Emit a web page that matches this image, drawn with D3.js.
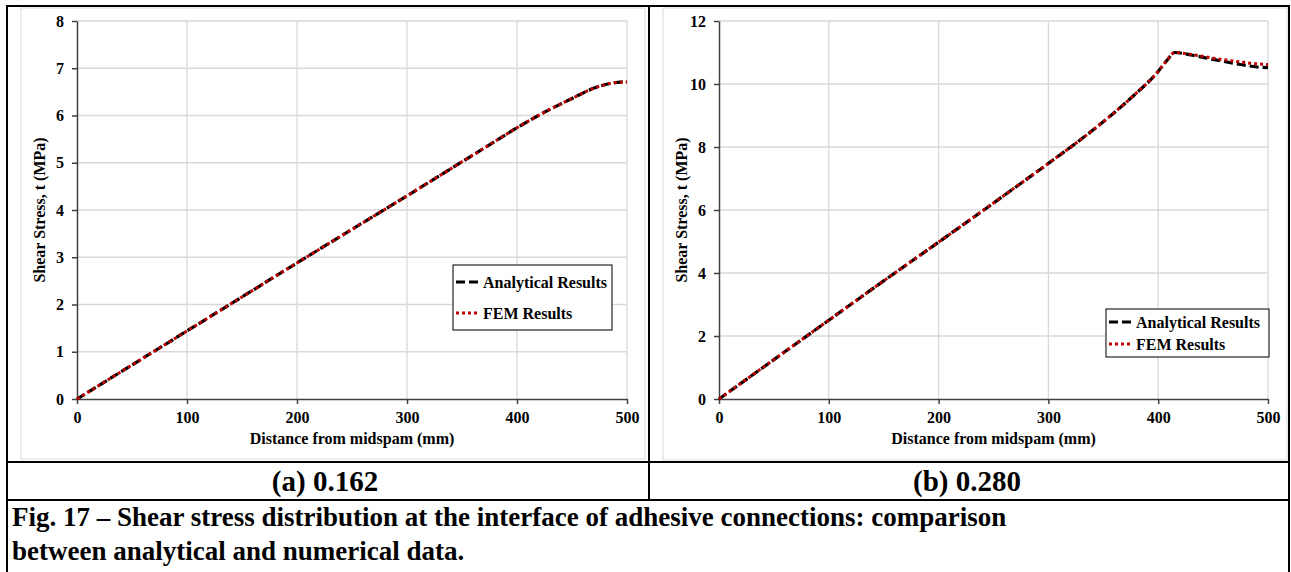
<!DOCTYPE html>
<html>
<head>
<meta charset="utf-8">
<script src="https://cdn.jsdelivr.net/npm/d3@7"></script>
<style>
  body { margin: 0; background: #fff; }
  svg { display: block; font-family: "Liberation Serif", "Times New Roman", serif; font-weight: bold; }
</style>
</head>
<body>
<svg id="fig"></svg>
<script>
const width = 1291, height = 572;

// Data
const xTicks = [0, 100, 200, 300, 400, 500];

// panel (a) 0.162
const aDist = [0, 50, 100, 150, 200, 250, 300, 350, 375, 400, 425, 450, 470, 485, 500];
const aAnalytical = [0, 0.72, 1.44, 2.16, 2.88, 3.59, 4.30, 5.02, 5.38, 5.74, 6.07, 6.36, 6.58, 6.68, 6.72];
const aFEM = [0, 0.72, 1.44, 2.16, 2.88, 3.59, 4.30, 5.02, 5.38, 5.74, 6.07, 6.36, 6.58, 6.68, 6.71];
const aYTicks = [0, 1, 2, 3, 4, 5, 6, 7, 8];

// panel (b) 0.280
const bDist = [0, 50, 100, 150, 200, 250, 300, 325, 350, 375, 400, 408, 415, 430, 450, 475, 490, 500];
const bAnalytical = [0, 1.25, 2.5, 3.75, 4.98, 6.22, 7.48, 8.12, 8.8, 9.55, 10.4, 10.75, 11.0, 10.92, 10.78, 10.62, 10.54, 10.52];
const bFEM = [0, 1.25, 2.5, 3.75, 4.98, 6.22, 7.48, 8.12, 8.8, 9.55, 10.4, 10.75, 11.0, 10.94, 10.82, 10.7, 10.64, 10.62];
const bYTicks = [0, 2, 4, 6, 8, 10, 12];

const seriesNames = ["Analytical Results", "FEM Results"];
const subCaptions = ["(a) 0.162", "(b) 0.280"];
const captionLines = [
  "Fig. 17 \u2013 Shear stress distribution at the interface of adhesive connections: comparison",
  "between analytical and numerical data."
];
const xTitle = "Distance from midspam (mm)";
const yTitle = "Shear Stress, t (MPa)";

const svg = d3.select("#fig")
  .attr("width", width)
  .attr("height", height)
  .attr("viewBox", [0, 0, width, height]);

svg.append("rect").attr("width", width).attr("height", height).attr("fill", "#fff");

// line styles
const styles = [
  { stroke: "#000", dash: "9,4", width: 3.2 },
  { stroke: "#c00000", dash: "3,3", width: 3 }
];

function drawPanel(p) {
  const g = svg.append("g");

  // chart area frame
  g.append("rect")
    .attr("x", p.frame[0]).attr("y", p.frame[1])
    .attr("width", p.frame[2] - p.frame[0]).attr("height", p.frame[3] - p.frame[1])
    .attr("fill", "#fff").attr("stroke", "#d9d9d9").attr("stroke-width", 1);

  const x = d3.scaleLinear().domain([0, 500]).range([p.left, p.right]);
  const y = d3.scaleLinear().domain([0, p.yMax]).range([p.bottom, p.top]);

  // gridlines
  g.append("g").selectAll("line")
    .data(xTicks.slice(1))
    .join("line")
    .attr("x1", d => x(d)).attr("x2", d => x(d))
    .attr("y1", p.top).attr("y2", p.bottom)
    .attr("stroke", "#d9d9d9").attr("stroke-width", 1.3);
  g.append("g").selectAll("line")
    .data(p.yTicks.slice(1))
    .join("line")
    .attr("x1", p.left).attr("x2", p.right)
    .attr("y1", d => y(d)).attr("y2", d => y(d))
    .attr("stroke", "#d9d9d9").attr("stroke-width", 1.3);

  // axes
  const xAxis = g.append("g")
    .attr("transform", `translate(0,${p.bottom})`)
    .call(d3.axisBottom(x).tickValues(xTicks).tickSize(5).tickSizeOuter(0).tickPadding(8));
  const yAxis = g.append("g")
    .attr("transform", `translate(${p.left},0)`)
    .call(d3.axisLeft(y).tickValues(p.yTicks).tickSize(5).tickSizeOuter(0).tickPadding(8));
  [xAxis, yAxis].forEach(a => {
    a.selectAll("path, line").attr("stroke", "#404040").attr("stroke-width", 1.5);
    a.selectAll("text")
      .attr("fill", "#000")
      .style("font-family", "Liberation Serif, Times New Roman, serif")
      .style("font-size", "16px")
      .style("font-weight", "bold");
  });

  g.append("text")
    .attr("x", (p.left + p.right) / 2)
    .attr("y", p.bottom + 45)
    .attr("text-anchor", "middle")
    .attr("font-size", 16)
    .text(xTitle);

  g.append("text")
    .attr("transform", `translate(${p.left - 32},${(p.top + p.bottom) / 2})rotate(-90)`)
    .attr("text-anchor", "middle")
    .attr("font-size", 16)
    .text(yTitle);

  // series
  const line = d3.line()
    .x(d => x(d[0]))
    .y(d => y(d[1]))
    .curve(d3.curveMonotoneX);

  p.series.forEach((vals, i) => {
    g.append("path")
      .datum(p.dist.map((d, j) => [d, vals[j]]))
      .attr("fill", "none")
      .attr("stroke", styles[i].stroke)
      .attr("stroke-width", styles[i].width)
      .attr("stroke-dasharray", styles[i].dash)
      .attr("d", line);
  });

  // legend
  const lg = g.append("g");
  lg.append("rect")
    .attr("x", p.legend.x).attr("y", p.legend.y)
    .attr("width", p.legend.w).attr("height", p.legend.h)
    .attr("fill", "#fff").attr("stroke", "#262626").attr("stroke-width", 1.2);
  seriesNames.forEach((name, i) => {
    const cy = p.legend.rows[i];
    lg.append("line")
      .attr("x1", p.legend.x + 3).attr("x2", p.legend.x + 27)
      .attr("y1", cy).attr("y2", cy)
      .attr("stroke", styles[i].stroke)
      .attr("stroke-width", styles[i].width)
      .attr("stroke-dasharray", styles[i].dash);
    lg.append("text")
      .attr("x", p.legend.x + 30)
      .attr("y", cy + 6)
      .attr("font-size", 16)
      .text(name);
  });
}

drawPanel({
  frame: [21, 8, 645, 459],
  left: 77, right: 627, top: 21, bottom: 399,
  yMax: 8, yTicks: aYTicks,
  dist: aDist, series: [aAnalytical, aFEM],
  legend: { x: 453, y: 265, w: 159, h: 65, rows: [282, 313] }
});

drawPanel({
  frame: [663, 8, 1287, 460],
  left: 719, right: 1268, top: 21, bottom: 399,
  yMax: 12, yTicks: bYTicks,
  dist: bDist, series: [bAnalytical, bFEM],
  legend: { x: 1106, y: 309, w: 163, h: 48, rows: [322, 344] }
});

// table rules
const rules = svg.append("g").attr("stroke", "#000").attr("stroke-width", 2);
rules.append("line").attr("x1", 6).attr("x2", 1290).attr("y1", 6).attr("y2", 6);
rules.append("line").attr("x1", 7).attr("x2", 7).attr("y1", 5).attr("y2", height);
rules.append("line").attr("x1", 1289).attr("x2", 1289).attr("y1", 5).attr("y2", height);
rules.append("line").attr("x1", 649).attr("x2", 649).attr("y1", 6).attr("y2", 500);
rules.append("line").attr("x1", 7).attr("x2", 1289).attr("y1", 462).attr("y2", 462);
rules.append("line").attr("x1", 7).attr("x2", 1289).attr("y1", 500).attr("y2", 500);

// sub captions
const subX = [325, 967];
subCaptions.forEach((t, i) => {
  svg.append("text")
    .attr("x", subX[i]).attr("y", 491)
    .attr("text-anchor", "middle")
    .attr("font-size", 29)
    .text(t);
});

// caption
const capY = [526, 560];
captionLines.forEach((t, i) => {
  svg.append("text")
    .attr("x", 12).attr("y", capY[i])
    .attr("font-size", 27)
    .text(t);
});
</script>
</body>
</html>
